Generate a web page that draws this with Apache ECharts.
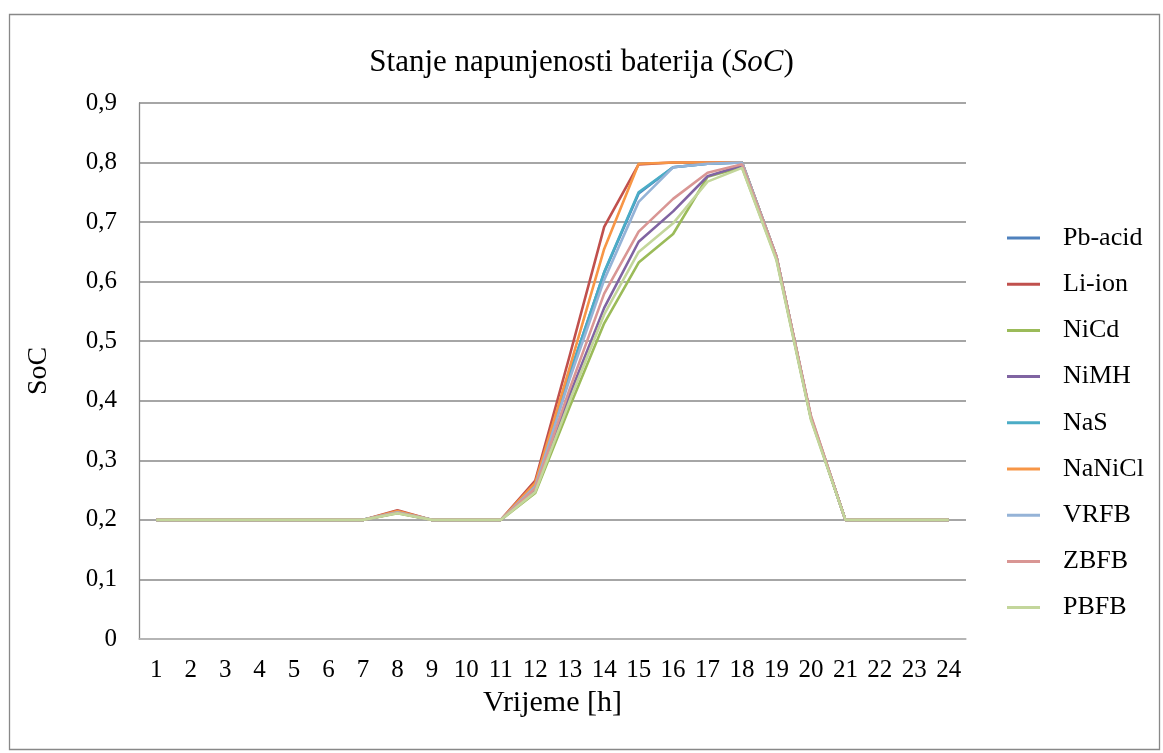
<!DOCTYPE html>
<html>
<head>
<meta charset="utf-8">
<script src="https://cdn.jsdelivr.net/npm/echarts@6/dist/echarts.min.js"></script>
<style>html,body{margin:0;padding:0;background:#fff}#c{width:1163px;height:753px}</style>
</head>
<body>
<div id="c"></div>
<script>
const hours = ['1','2','3','4','5','6','7','8','9','10','11','12','13','14','15','16','17','18','19','20','21','22','23','24'];
const yTicks = [0, 0.1, 0.2, 0.3, 0.4, 0.5, 0.6, 0.7, 0.8, 0.9];
const seriesNames = ['Pb-acid','Li-ion','NiCd','NiMH','NaS','NaNiCl','VRFB','ZBFB','PBFB'];
const seriesColors = ['#4F81BD','#C0504D','#9BBB59','#8064A2','#4BACC6','#F79646','#95B3D7','#D99694','#C3D69B'];

const pbAcid = [0.2,0.2,0.2,0.2,0.2,0.2,0.2,0.213,0.2,0.2,0.2,0.258,0.445,0.615,0.748,0.792,0.798,0.8,0.642,0.372,0.2,0.2,0.2,0.2];
const liIon  = [0.2,0.2,0.2,0.2,0.2,0.2,0.2,0.216,0.2,0.2,0.2,0.266,0.476,0.692,0.797,0.8,0.8,0.8,0.642,0.372,0.2,0.2,0.2,0.2];
const niCd   = [0.2,0.2,0.2,0.2,0.2,0.2,0.2,0.211,0.2,0.2,0.2,0.245,0.39,0.53,0.632,0.68,0.776,0.792,0.638,0.37,0.2,0.2,0.2,0.2];
const niMH   = [0.2,0.2,0.2,0.2,0.2,0.2,0.2,0.212,0.2,0.2,0.2,0.25,0.41,0.556,0.667,0.718,0.777,0.795,0.64,0.372,0.2,0.2,0.2,0.2];
const naS    = [0.2,0.2,0.2,0.2,0.2,0.2,0.2,0.213,0.2,0.2,0.2,0.258,0.445,0.616,0.75,0.792,0.798,0.8,0.642,0.372,0.2,0.2,0.2,0.2];
const naNiCl = [0.2,0.2,0.2,0.2,0.2,0.2,0.2,0.215,0.2,0.2,0.2,0.262,0.456,0.655,0.798,0.8,0.8,0.8,0.642,0.372,0.2,0.2,0.2,0.2];
const vrfb   = [0.2,0.2,0.2,0.2,0.2,0.2,0.2,0.213,0.2,0.2,0.2,0.256,0.437,0.603,0.734,0.792,0.798,0.8,0.642,0.372,0.2,0.2,0.2,0.2];
const zbfb   = [0.2,0.2,0.2,0.2,0.2,0.2,0.2,0.212,0.2,0.2,0.2,0.253,0.42,0.58,0.684,0.739,0.783,0.797,0.642,0.375,0.2,0.2,0.2,0.2];
const pbfb   = [0.2,0.2,0.2,0.2,0.2,0.2,0.2,0.211,0.2,0.2,0.2,0.247,0.4,0.545,0.65,0.698,0.768,0.791,0.636,0.368,0.2,0.2,0.2,0.2];
const allData = [pbAcid, liIon, niCd, niMH, naS, naNiCl, vrfb, zbfb, pbfb];

const font = '"Liberation Serif", "Times New Roman", serif';
const chart = echarts.init(document.getElementById('c'), null, {renderer: 'canvas'});
chart.setOption({
  backgroundColor: '#fff',
  animation: false,
  graphic: [{
    type: 'rect', left: 7, top: 12, shape: {width: 1150, height: 735},
    style: {fill: 'none', stroke: '#888', lineWidth: 1.3}, silent: true, z: -1
  }],
  title: {
    text: 'Stanje napunjenosti baterija ({i|SoC})',
    left: 'center', top: 42,
    textStyle: {
      fontFamily: font, fontSize: 31, fontWeight: 'normal', color: '#000',
      rich: {i: {fontFamily: font, fontSize: 31, fontStyle: 'italic', color: '#000'}}
    }
  },
  legend: {
    orient: 'vertical', left: 1002, top: 220, itemGap: 20.2, itemWidth: 33, itemHeight: 3,
    icon: 'rect',
    textStyle: {fontFamily: font, fontSize: 26, lineHeight: 26, color: '#000', padding: [0,0,0,18]},
    data: seriesNames
  },
  grid: {left: 139, right: 197, top: 103, bottom: 114},
  xAxis: {
    type: 'category', data: hours, boundaryGap: true,
    name: 'Vrijeme [h]', nameLocation: 'middle', nameGap: 48,
    nameTextStyle: {fontFamily: font, fontSize: 30, color: '#000'},
    axisLine: {show: true, lineStyle: {color: '#bbb', width: 1.5}},
    axisTick: {show: false},
    axisLabel: {fontFamily: font, fontSize: 25, color: '#000', margin: 19}
  },
  yAxis: {
    type: 'value', min: 0, max: 0.9, interval: 0.1,
    name: 'SoC', nameLocation: 'middle', nameGap: 86, nameRotate: 90,
    nameTextStyle: {fontFamily: font, fontSize: 28, color: '#000'},
    axisLine: {show: true, lineStyle: {color: '#888', width: 1.3}},
    axisTick: {show: false},
    splitLine: {lineStyle: {color: '#888', width: 1.6}},
    axisLabel: {
      fontFamily: font, fontSize: 25, color: '#000', margin: 22,
      formatter: v => {
        const t = yTicks.find(x => Math.abs(x - v) < 1e-9);
        const val = t === undefined ? v : t;
        return val === 0 ? '0' : val.toFixed(1).replace('.', ',');
      }
    }
  },
  series: seriesNames.map((n, i) => ({
    name: n, type: 'line', data: allData[i], showSymbol: false, symbol: 'none',
    lineStyle: {color: seriesColors[i], width: 2.6},
    itemStyle: {color: seriesColors[i]}
  }))
});
</script>
</body>
</html>
